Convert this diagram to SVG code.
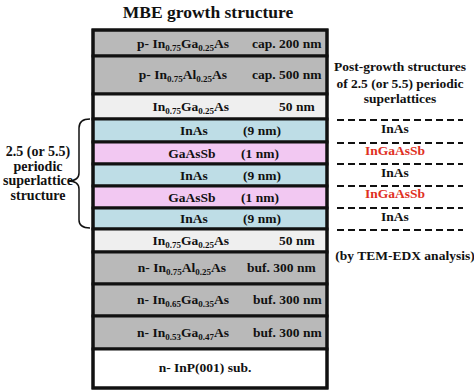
<svg xmlns="http://www.w3.org/2000/svg" width="474" height="392" viewBox="0 0 474 392">
<style>
text{font-family:"Liberation Serif","Times New Roman",serif;font-weight:bold;fill:#111;font-size:13.5px}
.t{font-size:17.5px}
.s{font-size:9px}
.c{text-anchor:middle}
.e{text-anchor:end}
.red{fill:#e0301e}
.gray{fill:#b9b9b9}
.lite{fill:#efefef}
.blue{fill:#bedde6}
.pink{fill:#f2c8f2}
.wht{fill:#ffffff}
.layer rect{stroke:#111;stroke-width:3}
.dash{stroke:#111;stroke-width:2;stroke-dasharray:7 4;fill:none}
</style>
<text class="t c" x="208" y="18">MBE growth structure</text>

<g id="stack" class="layer">
<g id="L1"><rect class="gray" x="93" y="30" width="234" height="26"/>
<text class="e" x="229" y="48">p- In<tspan class="s" dy="3">0.75</tspan><tspan dy="-3">Ga</tspan><tspan class="s" dy="3">0.25</tspan><tspan dy="-3">As</tspan></text>
<text x="252" y="48">cap. 200 nm</text></g>
<g id="L2"><rect class="gray" x="93" y="56" width="234" height="38"/>
<text class="e" x="227" y="79">p- In<tspan class="s" dy="3">0.75</tspan><tspan dy="-3">Al</tspan><tspan class="s" dy="3">0.25</tspan><tspan dy="-3">As</tspan></text>
<text x="252" y="79">cap. 500 nm</text></g>
<g id="L3"><rect class="lite" x="93" y="94" width="234" height="25"/>
<text class="e" x="229" y="111">In<tspan class="s" dy="3">0.75</tspan><tspan dy="-3">Ga</tspan><tspan class="s" dy="3">0.25</tspan><tspan dy="-3">As</tspan></text>
<text x="279" y="111">50 nm</text></g>
<g id="L4"><rect class="blue" x="93" y="119" width="234" height="23"/>
<text class="c" x="194" y="135">InAs</text><text class="c" x="262" y="135">(9 nm)</text></g>
<g id="L5"><rect class="pink" x="93" y="142" width="234" height="22"/>
<text class="c" x="192" y="157.5">GaAsSb</text><text class="c" x="260" y="157.5">(1 nm)</text></g>
<g id="L6"><rect class="blue" x="93" y="164" width="234" height="22"/>
<text class="c" x="194" y="179.5">InAs</text><text class="c" x="262" y="179.5">(9 nm)</text></g>
<g id="L7"><rect class="pink" x="93" y="186" width="234" height="22"/>
<text class="c" x="192" y="201.5">GaAsSb</text><text class="c" x="260" y="201.5">(1 nm)</text></g>
<g id="L8"><rect class="blue" x="93" y="208" width="234" height="21"/>
<text class="c" x="194" y="223">InAs</text><text class="c" x="262" y="223">(9 nm)</text></g>
<g id="L9"><rect class="lite" x="93" y="229" width="234" height="23"/>
<text class="e" x="229" y="245">In<tspan class="s" dy="3">0.75</tspan><tspan dy="-3">Ga</tspan><tspan class="s" dy="3">0.25</tspan><tspan dy="-3">As</tspan></text>
<text x="279" y="245">50 nm</text></g>
<g id="L10"><rect class="gray" x="93" y="252" width="234" height="32"/>
<text class="e" x="226" y="272">n- In<tspan class="s" dy="3">0.75</tspan><tspan dy="-3">Al</tspan><tspan class="s" dy="3">0.25</tspan><tspan dy="-3">As</tspan></text>
<text x="247" y="272">buf. 300 nm</text></g>
<g id="L11"><rect class="gray" x="93" y="284" width="234" height="32"/>
<text class="e" x="229" y="304">n- In<tspan class="s" dy="3">0.65</tspan><tspan dy="-3">Ga</tspan><tspan class="s" dy="3">0.35</tspan><tspan dy="-3">As</tspan></text>
<text x="253" y="304">buf. 300 nm</text></g>
<g id="L12"><rect class="gray" x="93" y="316" width="234" height="33"/>
<text class="e" x="229" y="337">n- In<tspan class="s" dy="3">0.53</tspan><tspan dy="-3">Ga</tspan><tspan class="s" dy="3">0.47</tspan><tspan dy="-3">As</tspan></text>
<text x="253" y="337">buf. 300 nm</text></g>
<g id="L13"><rect class="wht" x="93" y="349" width="234" height="39"/>
<text class="c" x="205" y="372">n- InP(001) sub.</text></g>
<rect x="93" y="30" width="234" height="358" fill="none" stroke="#111" stroke-width="3.5"/>
</g>

<g id="brace-label">
<path d="M90,119 Q79,119 79,128 L79,173 Q79,181 68,181 Q79,181 79,189 L79,220 Q79,228 90,228" fill="none" stroke="#111" stroke-width="1.5"/>
<text class="c" x="38" y="156" style="font-size:14px">2.5 (or 5.5)</text>
<text class="c" x="38" y="170.5" style="font-size:14px">periodic</text>
<text class="c" x="38" y="185" style="font-size:14px">superlattice</text>
<text class="c" x="38" y="199.5" style="font-size:14px">structure</text>
</g>

<g id="post-growth">
<text class="c" x="400" y="71">Post-growth structures</text>
<text class="c" x="400" y="88">of 2.5 (or 5.5) periodic</text>
<text class="c" x="400" y="103">superlattices</text>
<text class="c" x="395" y="133">InAs</text>
<text class="c red" x="395" y="155">InGaAsSb</text>
<text class="c" x="395" y="177">InAs</text>
<text class="c red" x="395" y="198">InGaAsSb</text>
<text class="c" x="395" y="221">InAs</text>
<text class="c" x="405" y="260">(by TEM-EDX analysis)</text>
</g>

<g id="connectors">
<line class="dash" x1="337" y1="120" x2="463" y2="120"/>
<line class="dash" x1="337" y1="143" x2="463" y2="143"/>
<line class="dash" x1="337" y1="164" x2="463" y2="164"/>
<line class="dash" x1="337" y1="186" x2="463" y2="186"/>
<line class="dash" x1="337" y1="208" x2="463" y2="208"/>
<line class="dash" x1="337" y1="230" x2="463" y2="230"/>
</g>
</svg>
